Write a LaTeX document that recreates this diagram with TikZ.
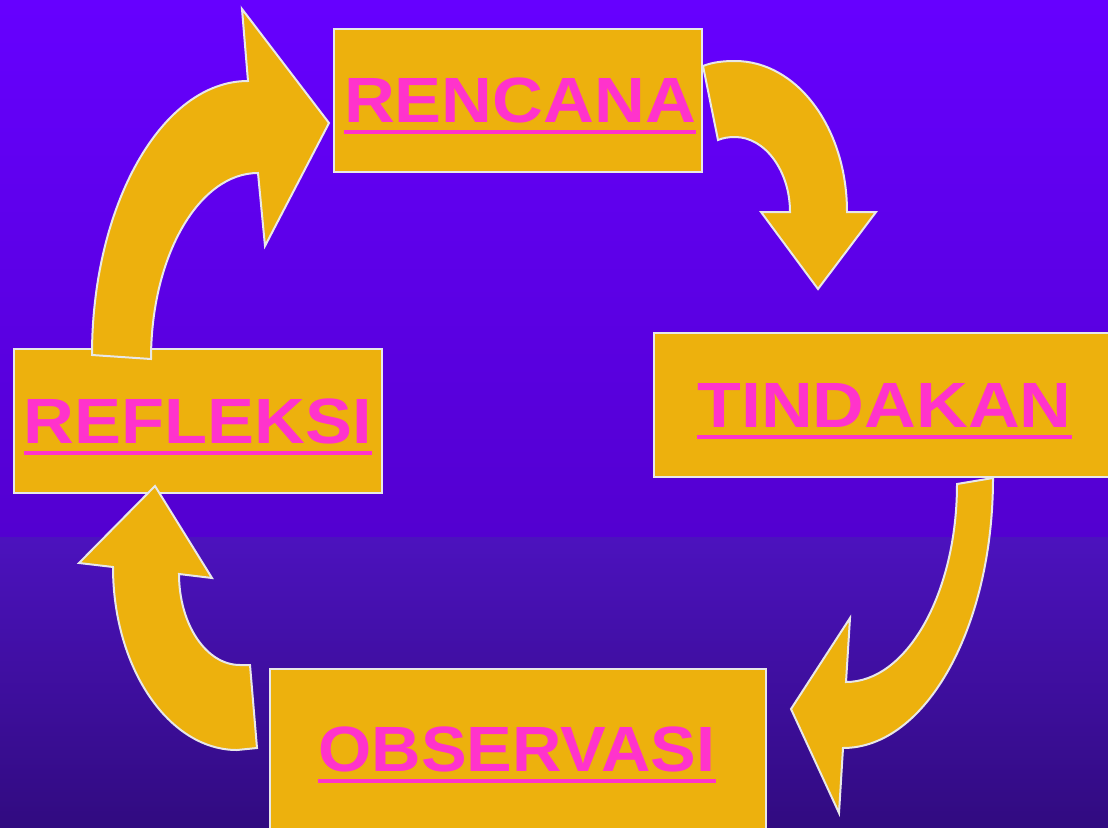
\documentclass[tikz,border=0pt]{standalone}
\usepackage{fontspec}
\setmainfont{Liberation Sans}
\usepackage{graphicx}
\definecolor{bgtop}{HTML}{6600FF}
\definecolor{bgmid}{HTML}{5300D0}
\definecolor{bgmidb}{HTML}{4C12BE}
\definecolor{bgbot}{HTML}{310B80}
\definecolor{gold}{HTML}{EDB10D}
\definecolor{edge}{HTML}{E8E8E8}
\definecolor{pinkt}{HTML}{FF33CC}
\newsavebox{\ulbox}
\newcommand{\ulword}[2]{\sbox{\ulbox}{\scalebox{#1}[1]{#2}}\rlap{\usebox{\ulbox}}\rule[-11.5pt]{\wd\ulbox}{3.8pt}}
\tikzset{
  box/.style={draw=edge, fill=gold, line width=2pt, rectangle, inner sep=0pt},
  lbl/.style={text=pinkt, font=\fontsize{64}{64}\selectfont\bfseries, inner sep=0pt, anchor=base},
  blockarrow/.style={draw=edge, fill=gold, line width=2pt, line join=miter}
}
\begin{document}
\begin{tikzpicture}[x=1pt,y=-1pt]
\useasboundingbox (0,0) rectangle (1108,827);
\shade[top color=bgtop, bottom color=bgmid] (0,0) rectangle (1108,537);
\shade[top color=bgmidb, bottom color=bgbot] (0,537) rectangle (1108,827);

% boxes
\node[box, minimum width=368pt, minimum height=143pt] (ren) at (518,100.5) {};
\node[box, minimum width=456pt, minimum height=144pt] (tin) at (882,405) {};
\node[box, minimum width=368pt, minimum height=144pt] (ref) at (198,421) {};
\node[box, minimum width=496pt, minimum height=171pt] (obs) at (518,754.5) {};

% labels
\node[lbl] (tren) at (520,122) {\ulword{1.10}{RENCANA}};
\node[lbl] (ttin) at (884.5,427) {\ulword{1.12}{TINDAKAN}};
\node[lbl] (tref) at (198,443) {\ulword{1.10}{REFLEKSI}};
\node[lbl] (tobs) at (517,771) {\ulword{1.07}{OBSERVASI}};

% REFLEKSI -> RENCANA
\filldraw[blockarrow] (92,355) .. controls (92,205) and (162,81) .. (248,81)
  -- (242,9) -- (329,123) -- (265,246) -- (258,173)
  .. controls (199,173) and (151,256) .. (151,359) -- cycle;

% RENCANA -> TINDAKAN
\filldraw[blockarrow] (703,66) .. controls (713,62) and (724,61) .. (735,61)
  .. controls (797,61) and (847,128) .. (847,212)
  -- (876,212) -- (818,289) -- (761,212) -- (790,212)
  .. controls (790,171) and (765,137) .. (735,137)
  .. controls (728,137) and (723,138) .. (718,140) -- cycle;

% TINDAKAN -> OBSERVASI
\filldraw[blockarrow] (993,478) .. controls (993,627) and (926,748) .. (843,748)
  -- (839,813) -- (791,709) -- (850,618) -- (846,682)
  .. controls (907,682) and (957,593) .. (957,484) -- cycle;

% OBSERVASI -> REFLEKSI
\filldraw[blockarrow] (257,748) -- (237,750)
  .. controls (169,750) and (113,668) .. (113,567)
  -- (79,563) -- (155,486) -- (212,578) -- (179,574)
  .. controls (179,624) and (206,665) .. (240,665) -- (250,665) -- cycle;
\end{tikzpicture}
\end{document}
